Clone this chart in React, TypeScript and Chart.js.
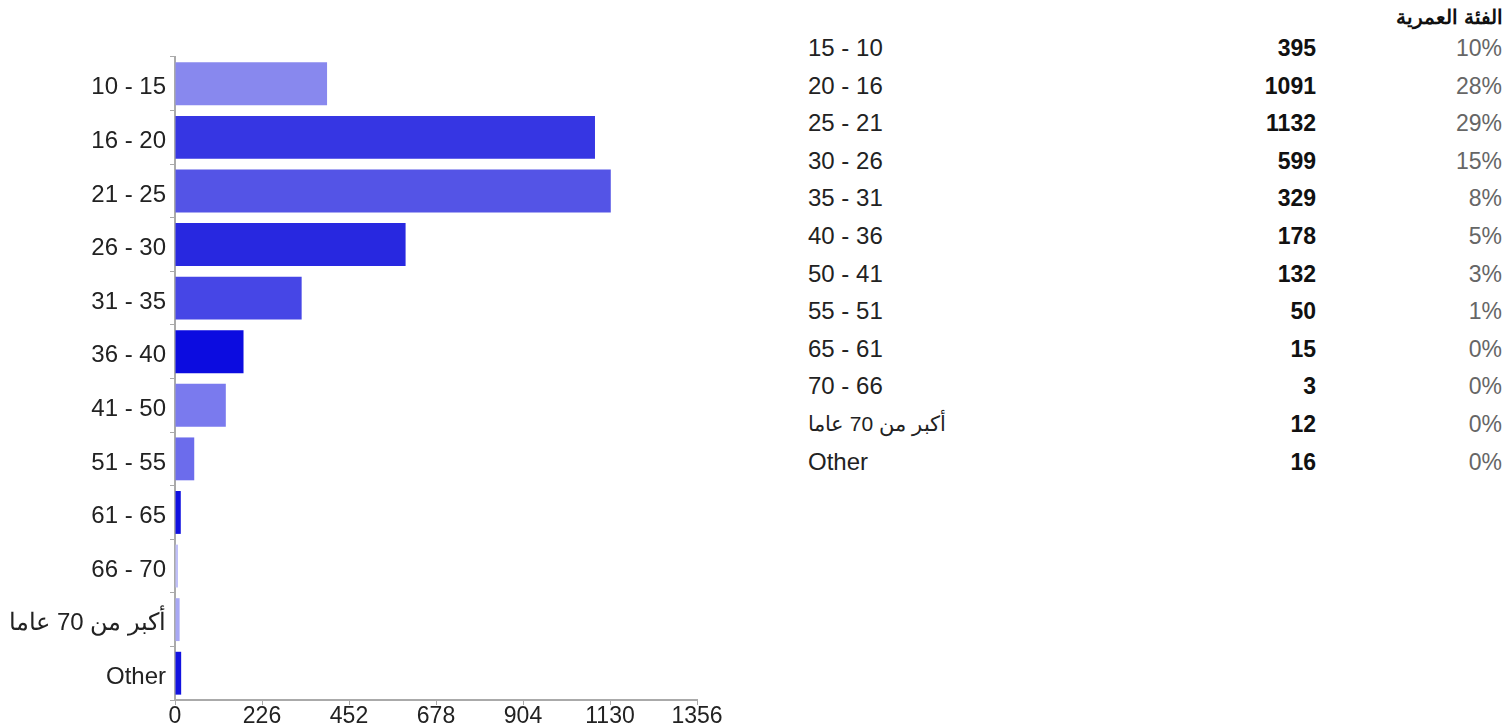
import React, { useEffect, useRef } from "react";
import { Chart, registerables } from "chart.js";

Chart.register(...registerables);

const categories = [
  "10 - 15",
  "16 - 20",
  "21 - 25",
  "26 - 30",
  "31 - 35",
  "36 - 40",
  "41 - 50",
  "51 - 55",
  "61 - 65",
  "66 - 70",
  "أكبر من 70 عاما",
  "Other",
];
const counts = [395, 1091, 1132, 599, 329, 178, 132, 50, 15, 3, 12, 16];
const percents = [10, 28, 29, 15, 8, 5, 3, 1, 0, 0, 0, 0];
const barColors = [
  "#8888ee",
  "#3636e3",
  "#5454e6",
  "#2828e0",
  "#4646e6",
  "#0c0ce0",
  "#7a7aee",
  "#6c6cec",
  "#1010e0",
  "#c0c0f8",
  "#a8a8f4",
  "#1212e0",
];
const xTickMax = 1356;
const xTickStep = 226;
const tableTitle = "الفئة العمرية";

const FONT = "'Liberation Sans', Arial, sans-serif";

export default function App() {
  const canvasRef = useRef<HTMLCanvasElement | null>(null);

  useEffect(() => {
    if (!canvasRef.current) return;
    const chart = new Chart(canvasRef.current, {
      type: "bar",
      data: {
        labels: categories,
        datasets: [
          {
            data: counts,
            backgroundColor: barColors,
            borderWidth: 0,
            categoryPercentage: 1,
            barPercentage: 0.8,
            minBarLength: 3,
          },
        ],
      },
      options: {
        indexAxis: "y",
        animation: false,
        responsive: false,
        devicePixelRatio: 1,
        layout: { padding: { left: 0, right: 63, top: 57, bottom: 0 } },
        plugins: {
          legend: { display: false },
          tooltip: { enabled: false },
        },
        scales: {
          x: {
            min: 0,
            max: xTickMax,
            afterFit: (scale: any) => {
              scale.height = 28;
            },
            ticks: {
              stepSize: xTickStep,
              padding: 0,
              color: "#222",
              font: { family: FONT, size: 23, lineHeight: 1 },
              maxRotation: 0,
              callback: (v: any) => String(v),
            },
            grid: {
              drawOnChartArea: false,
              drawTicks: true,
              tickLength: 5,
              color: "#aaa",
            },
            border: { display: true, color: "#aaa", width: 2 },
          },
          y: {
            afterFit: (scale: any) => {
              scale.width = 175;
            },
            ticks: {
              padding: 4,
              labelOffset: 4,
              color: "#222",
              font: { family: FONT, size: 24, lineHeight: 1 },
            },
            grid: {
              drawOnChartArea: false,
              drawTicks: true,
              tickLength: 5,
              color: "#aaa",
            },
            border: { display: true, color: "#aaa", width: 2 },
          },
        },
      },
    });
    return () => chart.destroy();
  }, []);

  const rowTop = 48;
  const rowStep = 37.6;

  return (
    <div
      style={{
        position: "absolute",
        left: 0,
        top: 0,
        width: 1512,
        height: 728,
        overflow: "hidden",
        background: "#fff",
        fontFamily: FONT,
      }}
    >
      <canvas
        ref={canvasRef}
        width={760}
        height={728}
        style={{ position: "absolute", left: 0, top: 0, width: 760, height: 728 }}
      />
      <div
        style={{
          position: "absolute",
          right: 9,
          top: 6,
          fontSize: 20,
          fontWeight: "bold",
          color: "#111",
          lineHeight: "22px",
        }}
        dir="rtl"
      >
        {tableTitle}
      </div>
      {categories.map((c, i) => {
        const y = rowTop + i * rowStep;
        const arabic = /[\u0600-\u06FF]/.test(c);
        return (
          <React.Fragment key={i}>
            <div
              style={{
                position: "absolute",
                left: 808,
                top: y - 13,
                height: 26,
                lineHeight: "26px",
                fontSize: arabic ? 21 : 24,
                color: "#222",
                whiteSpace: "nowrap",
              }}
            >
              <span dir="rtl">{c}</span>
            </div>
            <div
              style={{
                position: "absolute",
                right: 1512 - 1316,
                top: y - 13,
                height: 26,
                lineHeight: "26px",
                fontSize: 23,
                fontWeight: "bold",
                color: "#111",
                textAlign: "right",
              }}
            >
              {counts[i]}
            </div>
            <div
              style={{
                position: "absolute",
                right: 1512 - 1502,
                top: y - 13,
                height: 26,
                lineHeight: "26px",
                fontSize: 23,
                color: "#666",
                textAlign: "right",
              }}
            >
              {percents[i] + "%"}
            </div>
          </React.Fragment>
        );
      })}
    </div>
  );
}
